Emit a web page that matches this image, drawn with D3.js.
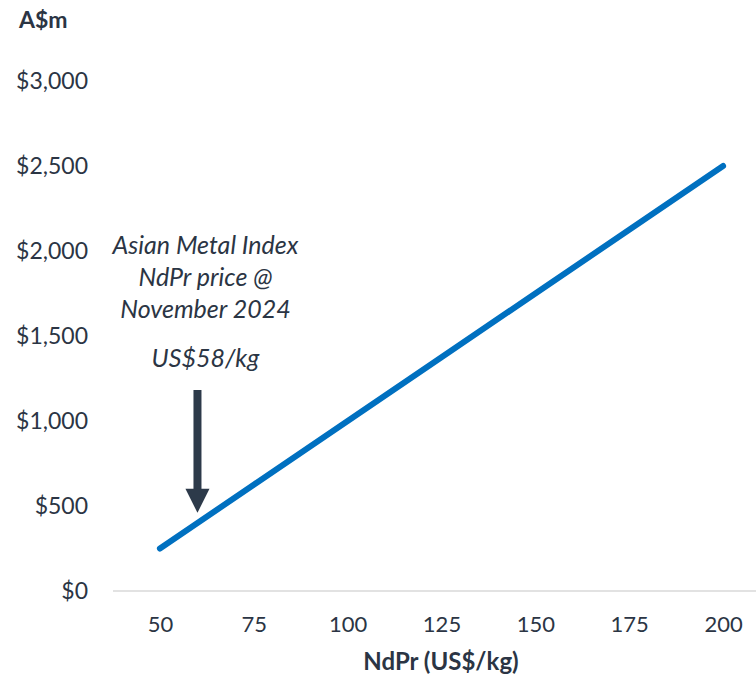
<!DOCTYPE html>
<html>
<head>
<meta charset="utf-8">
<script src="https://cdn.jsdelivr.net/npm/d3@7"></script>
<style>
  body { margin: 0; background: #fff; }
  svg { display: block; font-family: Lato, "Open Sans", sans-serif; }
</style>
</head>
<body>
<div id="chart"></div>
<script>
// NdPr price (US$/kg) vs value (A$m)
const prices = [50, 75, 100, 125, 150, 175, 200];
const values = [250, 625, 1000, 1375, 1750, 2125, 2500];
const yTicks = [0, 500, 1000, 1500, 2000, 2500, 3000];
const noteLines = ["Asian Metal Index", "NdPr price @", "November 2024"];
const notePrice = "US$58/kg";
const markerPrice = 60;

const width = 756, height = 677;
const textColor = "#2b3544";

const svg = d3.select("#chart").append("svg")
  .attr("width", width).attr("height", height);

const x = d3.scaleLinear().domain([37.5, 212.5]).range([113, 770]);
const y = d3.scaleLinear().domain([0, 3000]).range([591, 81]);

// baseline
svg.append("line")
  .attr("x1", x(37.5)).attr("x2", width)
  .attr("y1", y(0)).attr("y2", y(0))
  .attr("stroke", "#d9d9d9").attr("stroke-width", 1.5);

// y axis labels
const yAxis = d3.axisLeft(y).tickValues(yTicks)
  .tickFormat(d => "$" + d3.format(",")(d)).tickSize(0).tickPadding(0);
svg.append("g").attr("transform", "translate(88,0)").call(yAxis)
  .call(g => g.select(".domain").remove())
  .selectAll("text")
  .attr("font-family", "Lato, sans-serif")
  .attr("font-size", 23).attr("fill", textColor);

// x axis labels
const xAxis = d3.axisBottom(x).tickValues(prices).tickSize(0).tickPadding(0);
svg.append("g").attr("transform", "translate(0,616)").call(xAxis)
  .call(g => g.select(".domain").remove())
  .selectAll("text")
  .attr("font-family", "Lato, sans-serif")
  .attr("font-size", 22).attr("fill", textColor);

// titles
svg.append("text").attr("x", 19).attr("y", 28)
  .attr("font-size", 23).attr("font-weight", "bold").attr("fill", textColor)
  .text("A$m");
svg.append("text").attr("x", 441).attr("y", 670).attr("text-anchor", "middle")
  .attr("font-size", 24).attr("font-weight", "bold").attr("fill", textColor)
  .text("NdPr (US$/kg)");

// line
const line = d3.line().x((d, i) => x(prices[i])).y(d => y(d));
svg.append("path").datum(values)
  .attr("d", line)
  .attr("fill", "none")
  .attr("stroke", "#0070c0")
  .attr("stroke-width", 6)
  .attr("stroke-linecap", "round");

// annotation
const ax = x(markerPrice);
const note = svg.append("text")
  .attr("text-anchor", "middle")
  .attr("font-style", "italic").attr("font-size", 25).attr("fill", textColor);
noteLines.forEach((t, i) => {
  note.append("tspan").attr("x", ax + 8).attr("y", 254 + i * 32).text(t);
});
svg.append("text").attr("x", ax + 8).attr("y", 367)
  .attr("text-anchor", "middle")
  .attr("font-style", "italic").attr("font-size", 25).attr("fill", textColor)
  .text(notePrice);

const arrowColor = "#2d3a4a";
const tipY = y(460);
svg.append("rect")
  .attr("x", ax - 4).attr("y", 390)
  .attr("width", 8).attr("height", tipY - 24 - 390 + 1)
  .attr("fill", arrowColor);
svg.append("path")
  .attr("d", `M${ax - 12},${tipY - 24} L${ax + 12},${tipY - 24} L${ax},${tipY} Z`)
  .attr("fill", arrowColor);
</script>
</body>
</html>
